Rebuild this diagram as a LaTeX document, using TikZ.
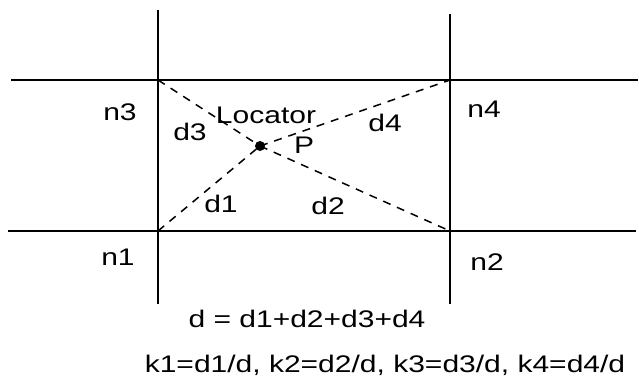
\documentclass[tikz,border=0pt]{standalone}
\usepackage{fontspec}
\setmainfont{Liberation Sans}[FakeStretch=1.25]
\begin{document}
\begin{tikzpicture}[x=1pt,y=-1pt,
  gridline/.style={line width=2pt,black},
  dist/.style={line width=1.5pt,black,dash pattern=on 8pt off 7pt},
  lbl/.style={anchor=base,inner sep=0pt,font=\fontsize{24}{28}\selectfont},
  dot/.style={circle,fill=black,inner sep=0pt,minimum size=10pt}]
\useasboundingbox (0,0) rectangle (639,386);
% grid lines
\coordinate (hTl) at (11,80);  \coordinate (hTr) at (638,80);
\coordinate (hBl) at (8,231);  \coordinate (hBr) at (636,231);
\coordinate (vLt) at (158,10); \coordinate (vLb) at (158,304);
\coordinate (vRt) at (450,14); \coordinate (vRb) at (450,304);
\draw[gridline] (hTl) -- (hTr);
\draw[gridline] (hBl) -- (hBr);
\draw[gridline] (vLt) -- (vLb);
\draw[gridline] (vRt) -- (vRb);
% corners
\coordinate (c3) at (158,80);
\coordinate (c4) at (450,80);
\coordinate (c1) at (158,231);
\coordinate (c2) at (450,231);
% locator point
\node[dot] (P) at (260,146) {};
\draw[dist] (c1) -- (P.center);
\draw[dist] (P.center) -- (c2);
\draw[dist] (c3) -- (P.center);
\draw[dist] (P.center) -- (c4);
% labels
\node[lbl] (n3) at (120,120) {n3};
\node[lbl] (n4) at (484,117) {n4};
\node[lbl] (n1) at (118,265) {n1};
\node[lbl] (n2) at (487,270) {n2};
\node[lbl] (d3) at (190,140) {d3};
\node[lbl] (loc) at (266,123) {Locator};
\node[lbl] (Pl) at (304,153) {P};
\node[lbl] (d1) at (221,212) {d1};
\node[lbl] (d2) at (328,214) {d2};
\node[lbl] (d4) at (385,131) {d4};
\node[lbl] (sum) at (307,327) {d = d1+d2+d3+d4};
\node[lbl] (ks) at (385,372) {k1=d1/d, k2=d2/d, k3=d3/d, k4=d4/d};
\end{tikzpicture}
\end{document}
